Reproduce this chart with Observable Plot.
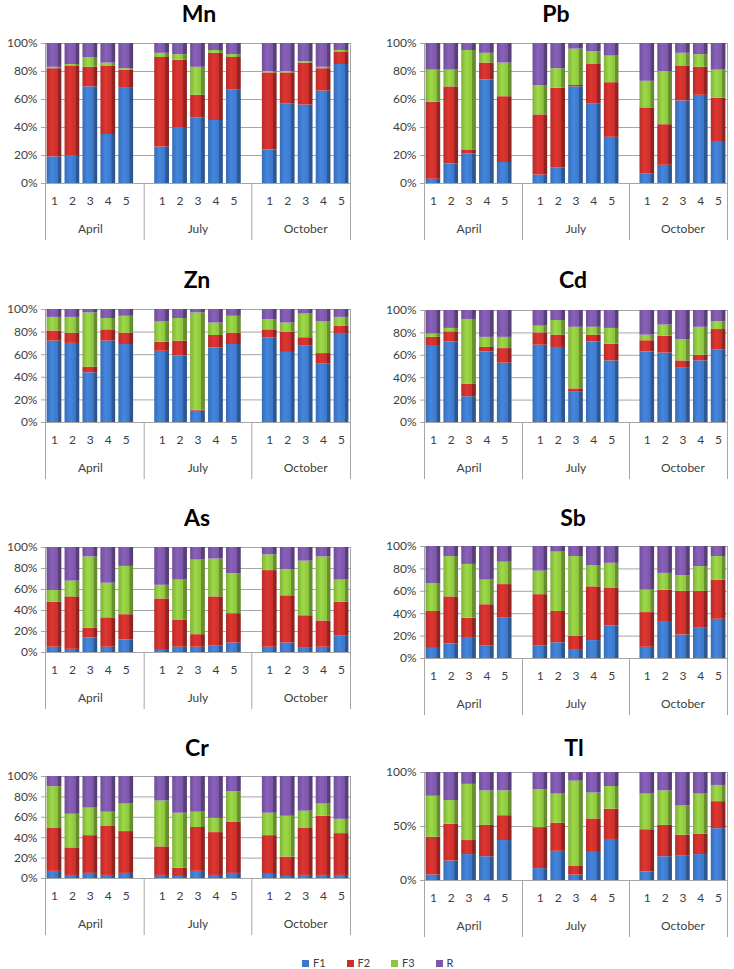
<!DOCTYPE html>
<html><head><meta charset="utf-8">
<script src="https://cdn.jsdelivr.net/npm/d3@7"></script>
<script src="https://cdn.jsdelivr.net/npm/@observablehq/plot@0.6"></script>
<style>
body{margin:0;background:#fff;}
#wrap{position:relative;width:734px;height:969px;overflow:hidden;font-family:Lato,sans-serif;}
.title{position:absolute;font-weight:700;font-size:23px;color:#000;transform:translate(-50%,-50%);white-space:nowrap;line-height:1;}
.panel{position:absolute;}
#legend{position:absolute;top:956px;left:302px;display:flex;font-size:11px;color:#404040;line-height:14px;}
#legend .item{display:flex;align-items:center;width:44.5px;}
#legend .sw{width:7px;height:7px;margin-right:4px;}
</style></head><body><div id="wrap"></div><script>
const months = ["April", "July", "October"];
const sites = [1, 2, 3, 4, 5];
const fractions = ["F1", "F2", "F3", "R"];
const colors = ["#3d78c8", "#c9302c", "#8dc440", "#7b57a7"];
const percentTicks = [0, 20, 40, 60, 80, 100];
const halfTicks = [0, 50, 100];

// values in % per bar: April 1-5, July 1-5, October 1-5
const Mn_F1 = [19,20,69,35,68, 26,40,47,45,67, 24,57,56,66,85];
const Mn_F2 = [63,64,14,49,13, 64,48,16,48,23, 55,22,30,16,9];
const Mn_F3 = [1,1,7,2,1, 3,4,20,2,2, 1,1,1,1,1];
const Mn_R  = [17,15,10,14,18, 7,8,17,5,8, 20,20,13,17,5];

const Pb_F1 = [3,14,21,74,15, 6,11,69,57,33, 7,13,59,63,30];
const Pb_F2 = [55,55,3,12,47, 43,57,1,28,39, 47,29,25,20,31];
const Pb_F3 = [23,12,71,7,24, 21,14,26,9,19, 19,38,9,9,20];
const Pb_R  = [19,19,5,7,14, 30,18,4,6,9, 27,20,7,8,19];

const Zn_F1 = [72,70,44,72,69, 63,59,10,66,69, 75,62,68,52,78];
const Zn_F2 = [9,9,5,10,10, 8,13,1,11,10, 7,18,7,9,7];
const Zn_F3 = [12,14,48,10,15, 18,20,86,11,15, 9,8,21,28,8];
const Zn_R  = [7,7,3,8,6, 11,8,3,12,6, 9,12,4,11,7];

const Cd_F1 = [68,72,23,63,53, 69,67,27,72,55, 63,62,49,55,65];
const Cd_F2 = [8,9,11,4,13, 11,11,3,6,15, 10,15,6,5,18];
const Cd_F3 = [3,3,58,9,10, 6,13,55,7,14, 5,10,19,25,7];
const Cd_R  = [21,16,8,24,24, 14,9,15,15,16, 22,13,26,15,10];

const As_F1 = [5,3,14,5,12, 2,5,5,6,9, 5,9,4,5,16];
const As_F2 = [43,50,9,28,24, 49,26,12,47,28, 73,45,31,25,32];
const As_F3 = [11,15,68,33,46, 13,38,71,36,38, 15,25,52,61,21];
const As_R  = [41,32,9,34,18, 36,31,12,11,25, 7,21,13,9,31];

const Sb_F1 = [9,13,18,11,36, 11,14,8,16,29, 10,33,21,27,35];
const Sb_F2 = [33,42,18,37,30, 46,28,12,48,34, 31,28,39,33,35];
const Sb_F3 = [25,36,48,22,20, 21,53,71,19,22, 20,15,14,22,21];
const Sb_R  = [33,9,16,30,14, 22,5,9,17,15, 39,24,26,18,9];

const Cr_F1 = [7,3,5,3,5, 3,2,7,3,5, 4,2,3,3,3];
const Cr_F2 = [42,27,37,48,41, 28,8,43,42,50, 38,19,46,58,41];
const Cr_F3 = [41,33,27,14,27, 45,54,15,14,30, 22,40,17,12,14];
const Cr_R  = [10,37,31,35,27, 24,36,35,41,15, 36,39,34,27,42];

const Tl_F1 = [5,18,24,22,37, 11,27,5,26,38, 8,22,23,24,48];
const Tl_F2 = [35,34,13,29,23, 38,26,8,31,28, 39,29,19,19,25];
const Tl_F3 = [38,22,52,32,23, 35,27,79,24,21, 33,32,27,37,15];
const Tl_R  = [22,26,11,17,17, 16,20,8,19,13, 20,17,31,20,12];

const series = {
  Mn: [Mn_F1, Mn_F2, Mn_F3, Mn_R], Pb: [Pb_F1, Pb_F2, Pb_F3, Pb_R],
  Zn: [Zn_F1, Zn_F2, Zn_F3, Zn_R], Cd: [Cd_F1, Cd_F2, Cd_F3, Cd_R],
  As: [As_F1, As_F2, As_F3, As_R], Sb: [Sb_F1, Sb_F2, Sb_F3, Sb_R],
  Cr: [Cr_F1, Cr_F2, Cr_F3, Cr_R], Tl: [Tl_F1, Tl_F2, Tl_F3, Tl_R]
};

// panel layout (pixel positions of each small chart)
const panels = [
  {el: "Mn", col: 0, tx: 199, ty: 13, top: 43, bottom: 183, ticks: percentTicks},
  {el: "Pb", col: 1, tx: 556, ty: 13, top: 43, bottom: 183, ticks: percentTicks},
  {el: "Zn", col: 0, tx: 197, ty: 279, top: 309, bottom: 422, ticks: percentTicks},
  {el: "Cd", col: 1, tx: 573, ty: 279, top: 310, bottom: 422, ticks: percentTicks},
  {el: "As", col: 0, tx: 197, ty: 517, top: 547, bottom: 652, ticks: percentTicks},
  {el: "Sb", col: 1, tx: 573, ty: 517, top: 546, bottom: 658, ticks: percentTicks},
  {el: "Cr", col: 0, tx: 197, ty: 747, top: 776, bottom: 878, ticks: percentTicks},
  {el: "Tl", col: 1, tx: 574, ty: 747, top: 772, bottom: 880, ticks: halfTicks}
];

const wrap = document.getElementById("wrap");

// gradient definitions to mimic the shaded 3D bars
const gradSvg = fractions.map((f, i) => {
  const c = d3.color(colors[i]);
  return `<linearGradient id="grad-${f}" x1="0" x2="1" y1="0" y2="0">
    <stop offset="0" stop-color="${c.darker(0.3)}"/>
    <stop offset="0.35" stop-color="${c.brighter(0.3)}"/>
    <stop offset="0.74" stop-color="${c}"/>
    <stop offset="0.77" stop-color="${c.darker(0.8)}"/>
    <stop offset="1" stop-color="${c.darker(1)}"/></linearGradient>`;
}).join("");
wrap.insertAdjacentHTML("beforeend", `<svg width="0" height="0" style="position:absolute"><defs>${gradSvg}</defs></svg>`);

const gap = sites.length + 1;
const sitePositions = months.flatMap((m, mi) => sites.map((s, si) => mi * gap + si + 1));
const monthCenters = months.map((m, mi) => mi * gap + (sites.length + 1) / 2);
const separators = [0.5, ...months.slice(1).map((m, mi) => (mi + 1) * gap), months.length * gap - 0.5];

for (const p of panels) {
  const rows = [];
  months.forEach((m, mi) => sites.forEach((s, si) => fractions.forEach((f, fi) => {
    rows.push({month: m, site: s, pos: mi * gap + si + 1, fraction: f, value: series[p.el][fi][mi * sites.length + si]});
  })));
  const mt = 10, mb = 62;
  const ml = p.col ? 57 : 45;
  const mr = p.col ? 7 : 17;
  const chart = Plot.plot({
    width: 367,
    height: mt + (p.bottom - p.top) + mb,
    marginTop: mt, marginBottom: mb, marginLeft: ml, marginRight: mr,
    style: {fontFamily: "Lato, sans-serif", fontSize: "12px", color: "#404040", background: "transparent", overflow: "visible"},
    x: {domain: [0.5, months.length * gap - 0.5]},
    y: {domain: [0, 1]},
    color: {type: "identity"},
    marks: [
      Plot.gridY(p.ticks.map(t => t / 100), {stroke: "#a6a6a6", strokeOpacity: 1}),
      Plot.frame({stroke: "#a6a6a6"}),
      Plot.rectY(rows, Plot.stackY({
        x1: d => d.pos - 0.5, x2: d => d.pos + 0.5, y: "value", offset: "normalize",
        fill: d => `url(#grad-${d.fraction})`, insetLeft: 1.6, insetRight: 1.6
      })),
      Plot.axisY({ticks: p.ticks.map(t => t / 100), tickFormat: d => Math.round(d * 100) + "%", label: null, tickSize: 4, tickPadding: 4, stroke: "#a6a6a6", fill: "#404040"}),
      Plot.axisX({ticks: sitePositions, tickFormat: d => sites[(d - 1) % gap], label: null, tickSize: 0, tickPadding: 13, fill: "#404040"}),
      Plot.axisX({ticks: monthCenters, tickFormat: d => months[Math.round((d - 3) / gap)], label: null, tickSize: 0, tickPadding: 41, fill: "#404040"}),
      Plot.axisX({ticks: separators, tickFormat: () => "", label: null, tickSize: 57, stroke: "#a6a6a6"})
    ]
  });
  const div = document.createElement("div");
  div.className = "panel";
  div.style.left = (p.col ? 367 : 0) + "px";
  div.style.top = (p.top - mt) + "px";
  div.appendChild(chart);
  wrap.appendChild(div);
  const t = document.createElement("div");
  t.className = "title";
  t.style.left = p.tx + "px";
  t.style.top = p.ty + "px";
  t.textContent = p.el;
  wrap.appendChild(t);
}

const legend = document.createElement("div");
legend.id = "legend";
fractions.forEach((f, i) => {
  const item = document.createElement("div");
  item.className = "item";
  item.innerHTML = `<span class="sw" style="background:${colors[i]}"></span><span>${f}</span>`;
  legend.appendChild(item);
});
wrap.appendChild(legend);
</script></body></html>
